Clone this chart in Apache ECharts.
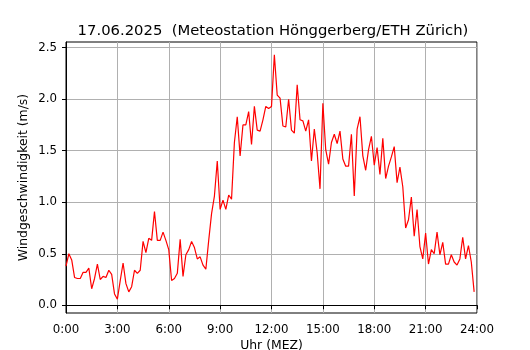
<!DOCTYPE html>
<html>
<head>
    <meta charset="utf-8" />
    <title>Windgeschwindigkeit 17.06.2025</title>
    <script src="https://cdn.jsdelivr.net/npm/echarts@6/dist/echarts.min.js"></script>
    <style>
        html, body { margin: 0; padding: 0; background: #fff; }
        #chart { width: 530px; height: 350px; }
    </style>
</head>
<body>
    <div id="chart"></div>
    <script>
        // 10-Minuten-Werte ab 0:00 (m/s)
        var windSpeed = [
            0.38, 0.50, 0.44, 0.27, 0.26, 0.26, 0.32, 0.32, 0.36, 0.16,
            0.26, 0.40, 0.25, 0.28, 0.27, 0.34, 0.30, 0.11, 0.06, 0.24,
            0.41, 0.21, 0.13, 0.18, 0.34, 0.31, 0.34, 0.62, 0.51, 0.65,
            0.63, 0.91, 0.63, 0.63, 0.71, 0.63, 0.54, 0.24, 0.26, 0.31,
            0.64, 0.28, 0.49, 0.54, 0.62, 0.56, 0.45, 0.47, 0.39, 0.35,
            0.63, 0.89, 1.06, 1.40, 0.93, 1.02, 0.93, 1.07, 1.03, 1.58,
            1.83, 1.45, 1.75, 1.75, 1.88, 1.56, 1.93, 1.70, 1.69, 1.80,
            1.93, 1.91, 1.93, 2.43, 2.04, 2.01, 1.74, 1.73, 2.00, 1.70,
            1.67, 2.14, 1.80, 1.79, 1.69, 1.80, 1.40, 1.71, 1.48, 1.13,
            1.96, 1.51, 1.37, 1.58, 1.66, 1.57, 1.69, 1.42, 1.35, 1.35,
            1.66, 1.06, 1.71, 1.83, 1.45, 1.31, 1.51, 1.64, 1.36, 1.53,
            1.27, 1.62, 1.23, 1.35, 1.44, 1.54, 1.19, 1.34, 1.15, 0.75,
            0.83, 1.05, 0.67, 0.93, 0.57, 0.45, 0.70, 0.40, 0.54, 0.50,
            0.71, 0.49, 0.61, 0.40, 0.40, 0.49, 0.42, 0.39, 0.45, 0.66,
            0.45, 0.58, 0.42, 0.13
        ];
        var stepMinutes = 10;
        var xTicks = [0, 180, 360, 540, 720, 900, 1080, 1260, 1440];
        var xTickLabels = ['0:00', '3:00', '6:00', '9:00', '12:00', '15:00', '18:00', '21:00', '24:00'];
        var yTicks = [0, 0.5, 1.0, 1.5, 2.0, 2.5];

        var seriesData = windSpeed.map(function (v, i) {
            return [i * stepMinutes, v];
        });

        var font = 'DejaVu Sans';
        var chart = echarts.init(document.getElementById('chart'), null, { renderer: 'canvas' });
        chart.setOption({
            animation: false,
            backgroundColor: '#fff',
            title: {
                text: '17.06.2025  (Meteostation Hönggerberg/ETH Zürich)',
                left: 268,
                textAlign: 'center',
                top: 19,
                textStyle: { fontFamily: font, fontSize: 14.8, fontWeight: 'normal', color: '#000' }
            },
            grid: {
                left: 66, right: 53, top: 42, bottom: 37,
                containLabel: false,
                outerBoundsMode: 'none',
                show: true, borderColor: '#000', borderWidth: 1, backgroundColor: '#fff'
            },
            xAxis: {
                type: 'value',
                min: 0, max: 1440, interval: 180,
                name: 'Uhr (MEZ)',
                nameLocation: 'middle',
                nameGap: 27,
                nameMoveOverlap: false,
                nameTextStyle: { fontFamily: font, fontSize: 12.4, color: '#000' },
                axisLine: { show: true, lineStyle: { color: '#000', width: 1 } },
                axisTick: { show: true, length: 4, lineStyle: { color: '#000' } },
                axisLabel: {
                    margin: 11, fontFamily: font, fontSize: 11.8, color: '#000',
                    formatter: function (v) {
                        var k = xTicks.indexOf(v);
                        return k >= 0 ? xTickLabels[k] : '';
                    }
                },
                splitLine: { show: true, lineStyle: { color: '#b0b0b0', width: 1 } }
            },
            yAxis: {
                type: 'value',
                min: -0.075, max: 2.555,
                name: 'Windgeschwindigkeit (m/s)',
                nameLocation: 'middle',
                nameGap: 36,
                nameRotate: 90,
                nameMoveOverlap: false,
                nameTextStyle: { fontFamily: font, fontSize: 12.4, color: '#000' },
                axisLine: { show: true, lineStyle: { color: '#000', width: 1 } },
                axisTick: { show: true, length: 4, lineStyle: { color: '#000' }, customValues: yTicks },
                axisLabel: {
                    margin: 9, fontFamily: font, fontSize: 11.8, color: '#000',
                    customValues: yTicks,
                    formatter: function (v) { return v.toFixed(1); }
                },
                splitLine: { show: true, lineStyle: { color: '#b0b0b0', width: 1 } }
            },
            series: [{
                type: 'line',
                data: seriesData,
                showSymbol: false,
                symbol: 'none',
                lineStyle: { color: '#ff0000', width: 1.2 },
                itemStyle: { color: '#ff0000' }
            }]
        });
    </script>
</body>
</html>
